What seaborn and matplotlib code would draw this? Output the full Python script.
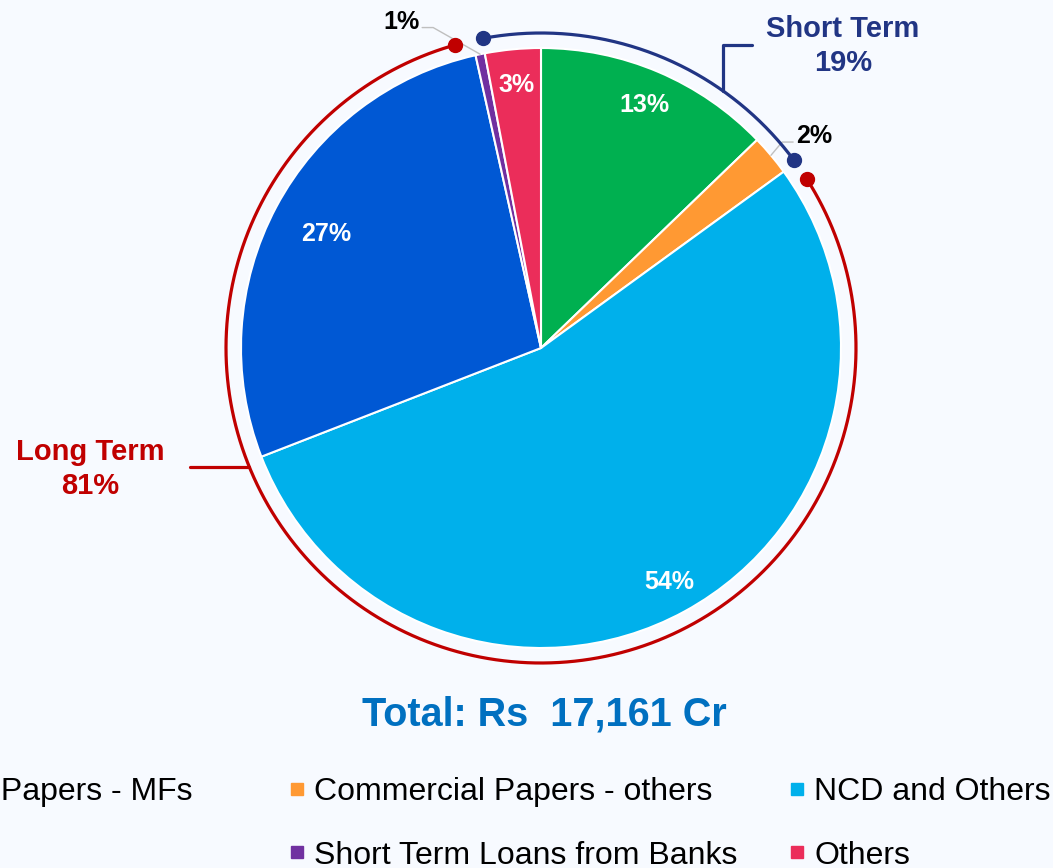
import numpy as np
import seaborn as sns
import matplotlib
matplotlib.use("Agg")
import matplotlib.pyplot as plt
from matplotlib.lines import Line2D

# data
segments = ["Commercial Papers - MFs", "Commercial Papers - others", "NCD and Others",
            "Term Loans", "Short Term Loans from Banks", "Others"]
shares = [12.8, 2.2, 54.1, 27.4, 0.5, 3.0]
pct_labels = ["13%", "2%", "54%", "27%", "1%", "3%"]
colors = ["#00B050", "#FF9933", "#00B0EB", "#0058D4", "#7030A0", "#EB2D5A"]
groups = ["Short Term", "Long Term"]
group_pct = ["19%", "81%"]
total_label = "Total: Rs  17,161 Cr"

sns.set_theme(style="white")
plt.rcParams["font.family"] = ["Liberation Sans", "DejaVu Sans"]

bg = "#F7FAFF"
navy = "#213584"
red = "#C00000"
W, H = 1053, 868
cx, cy, R = 541, 520, 300
R_arc = 315

fig = plt.figure(figsize=(W / 100, H / 100), dpi=100)
fig.patch.set_facecolor(bg)
ax = fig.add_axes([0, 0, 1, 1])
ax.set_facecolor(bg)

ax.pie(shares, colors=colors, startangle=90, counterclock=False,
       center=(cx, cy), radius=R,
       wedgeprops=dict(edgecolor="white", linewidth=1.5))
ax.set_xlim(0, W)
ax.set_ylim(0, H)
ax.set_aspect("equal")
ax.axis("off")


def polar(theta, r):
    t = np.radians(theta)
    return cx + r * np.sin(t), cy + r * np.cos(t)


bounds = np.concatenate([[0], np.cumsum(shares)]) / sum(shares) * 360
mids = (bounds[:-1] + bounds[1:]) / 2

# inside percentage labels
inside_r = [0.88, None, 0.89, 0.81, None, 0.88]
for i, r in enumerate(inside_r):
    if r is None:
        continue
    x, y = polar(mids[i], r * R)
    ax.text(x, y, pct_labels[i], color="white", fontsize=18, fontweight="bold",
            ha="center", va="center")

# outside labels with leader lines (elbow radius, elbow angle, direction)
outside = {1: (1.057, 49.5, 1), 4: (1.127, -18.6, -1)}
for i, (re, te, d) in outside.items():
    x0, y0 = polar(mids[i], R)
    x1, y1 = polar(te, re * R)
    ax.plot([x0, x1, x1 + d * 11], [y0, y1, y1], color="#BFBFBF", lw=1)
    ax.text(x1 + d * 14, y1 + 6, pct_labels[i], color="black", fontsize=18,
            fontweight="bold", ha="left" if d > 0 else "right", va="center")

# group arcs
short_span = (bounds[4] - 360 + 2.0, bounds[2] - 0.6)
long_span = (bounds[2] + 3.5, bounds[4] - 3.3)
for (a0, a1), c in [(short_span, navy), (long_span, red)]:
    th = np.linspace(a0, a1, 400)
    xs, ys = polar(th, R_arc)
    ax.plot(xs, ys, color=c, lw=2.3, solid_capstyle="butt")
    ex, ey = polar(np.array([a0, a1]), R_arc)
    ax.plot(ex, ey, "o", color=c, markersize=10, linestyle="none")

# Short Term callout
sx, sy = polar(35.4, R_arc)
ax.plot([sx, sx, sx + 29], [sy, 823, 823], color=navy, lw=2.3)
ax.text(843, 822, f"{groups[0]}\n{group_pct[0]}", color=navy, fontsize=21,
        fontweight="bold", ha="center", va="center", linespacing=1.3)

# Long Term callout
lx, ly = polar(247.8, R_arc)
ax.plot([190, lx], [ly, ly], color=red, lw=2.3)
ax.text(90, 399, f"{groups[1]}\n{group_pct[1]}", color=red, fontsize=21,
        fontweight="bold", ha="center", va="center", linespacing=1.3)

ax.text(544, 153, total_label, color="#0070C0", fontsize=28.5, fontweight="bold",
        ha="center", va="center")

# legend, three fixed-width columns
handles = [Line2D([], [], marker="s", linestyle="none", color=c, markersize=9)
           for c in colors]
col_x = [-206, 287, 787]
for k in range(3):
    idx = [k, k + 3]
    fig.legend([handles[i] for i in idx], [segments[i] for i in idx],
               loc="upper left", bbox_to_anchor=(col_x[k] / W, 91 / H),
               frameon=False, fontsize=23, handletextpad=0.25, borderpad=0,
               borderaxespad=0, labelspacing=1.05, handlelength=0.6,
               labelcolor="black")

fig.savefig("out.png", dpi=100, facecolor=bg)
